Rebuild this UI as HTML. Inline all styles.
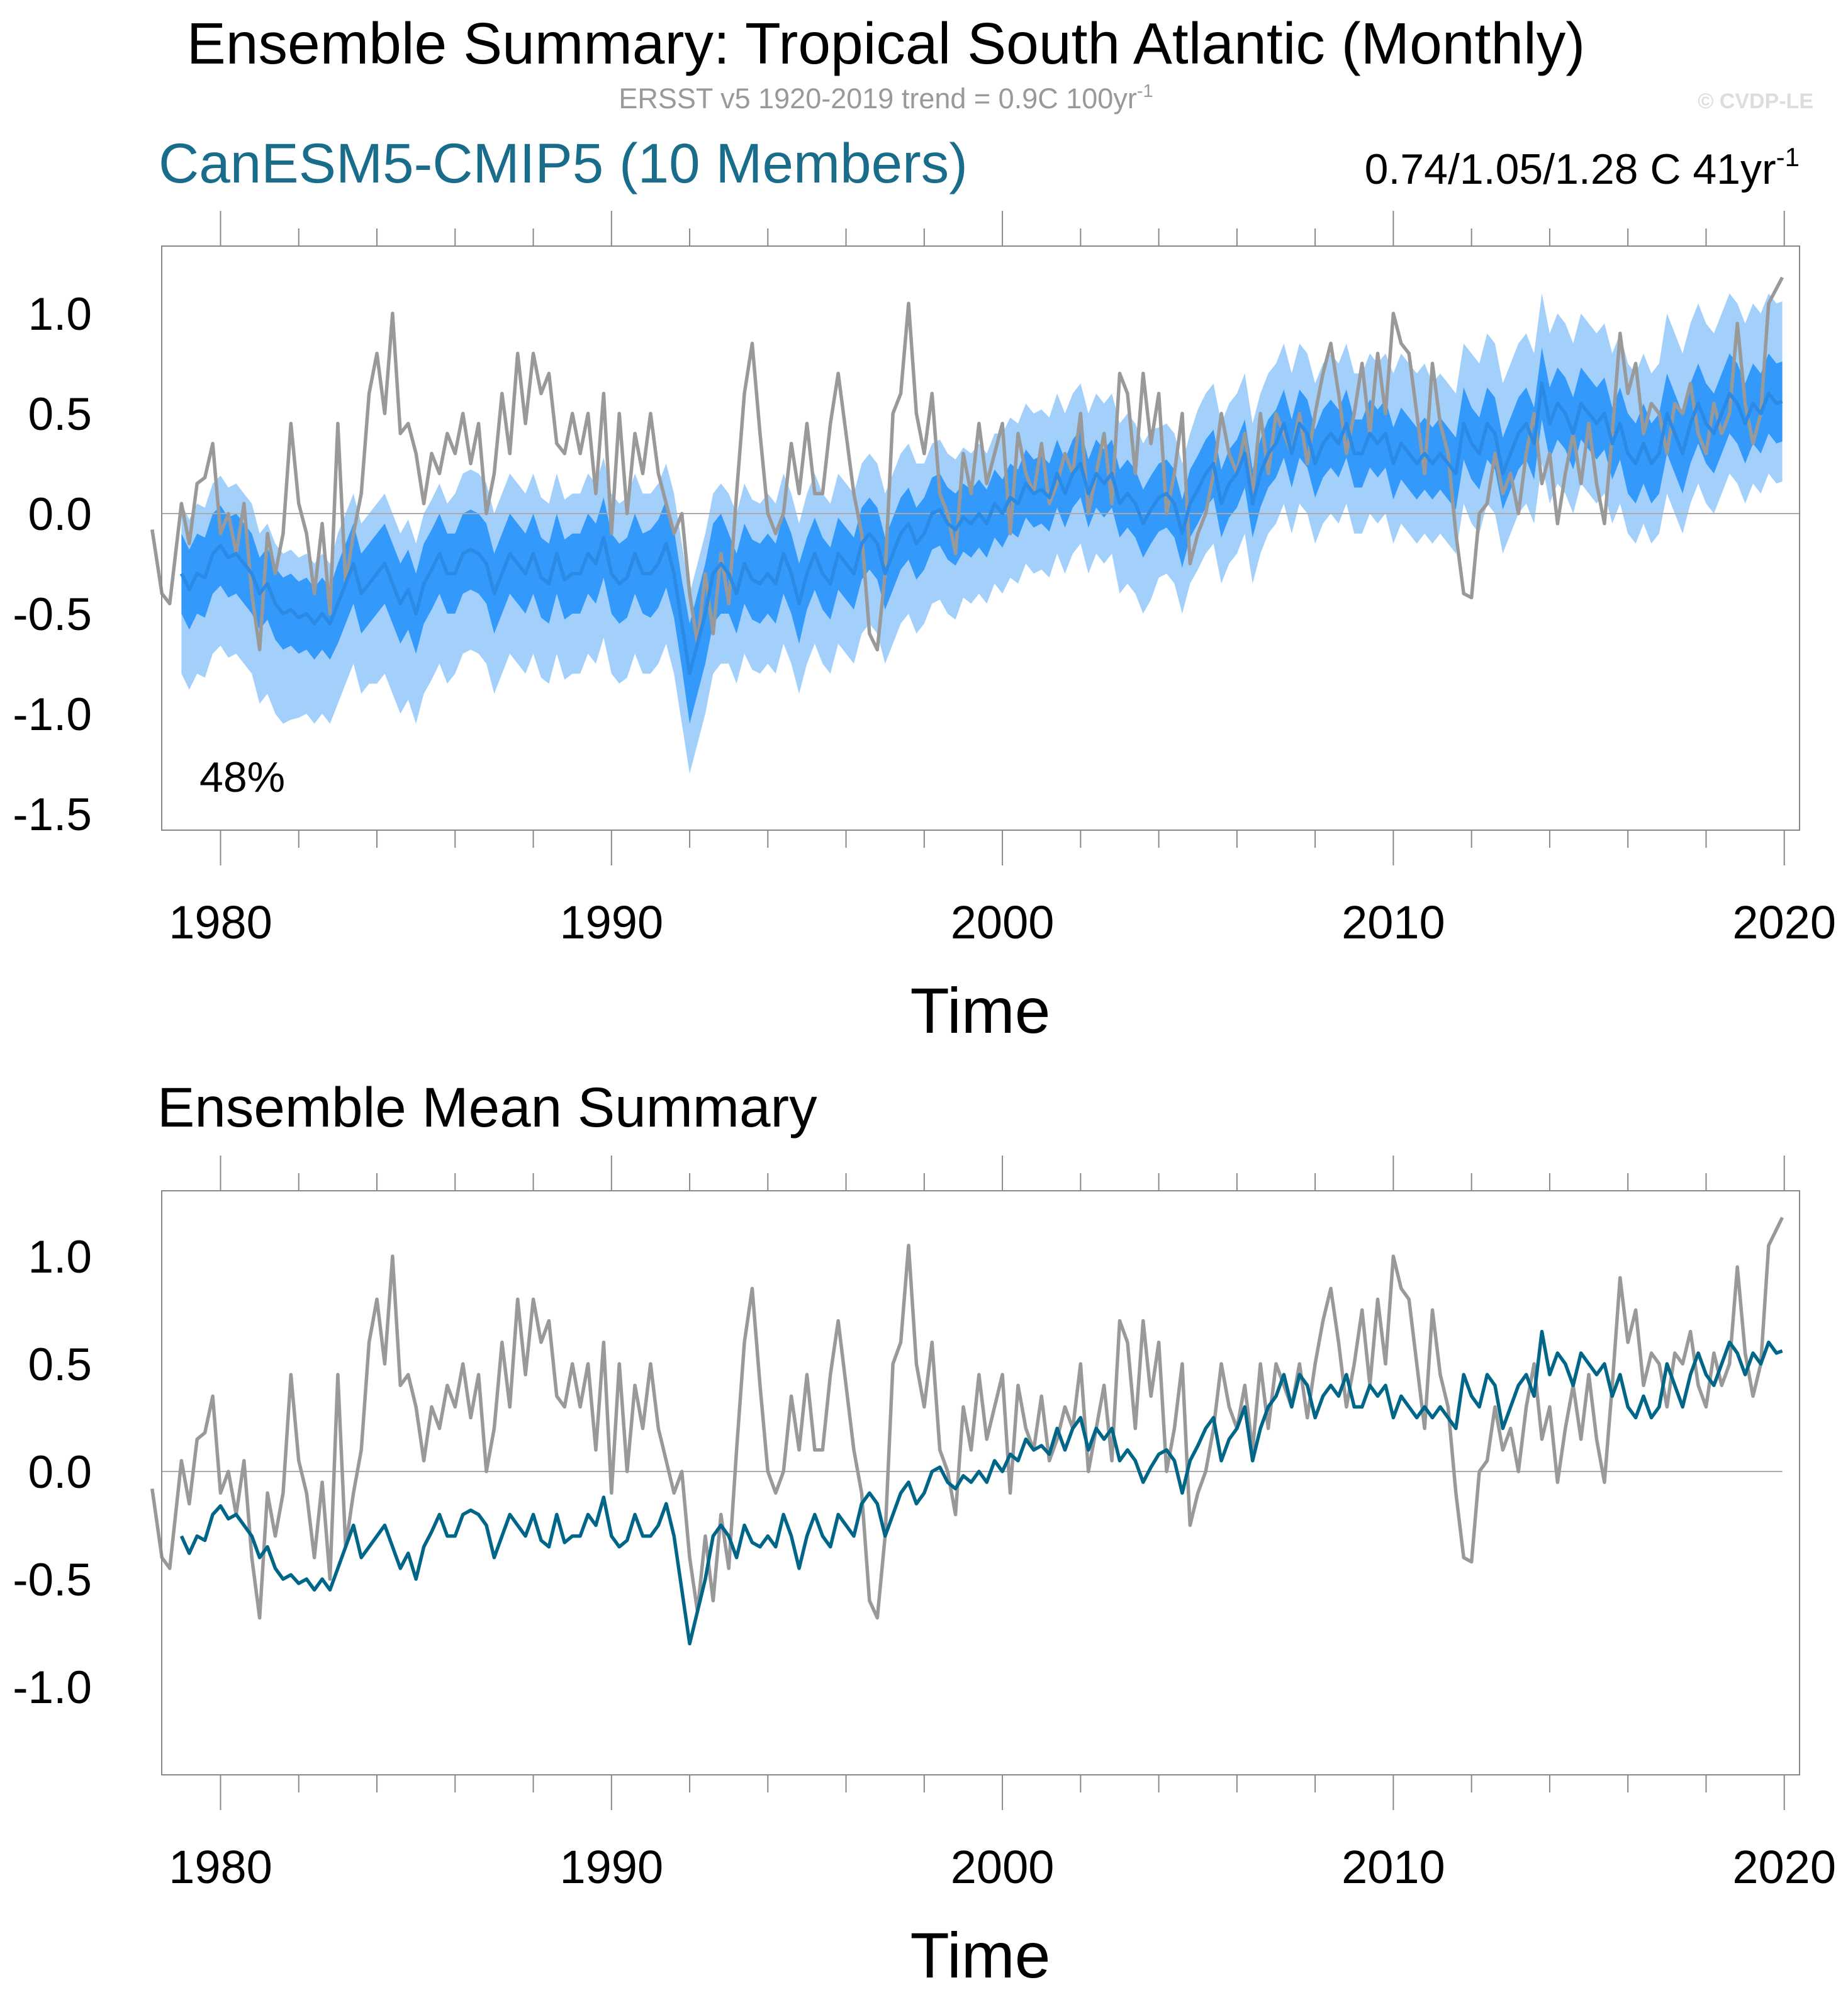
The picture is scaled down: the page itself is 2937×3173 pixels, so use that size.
<!DOCTYPE html>
<html><head><meta charset="utf-8">
<style>
html,body{margin:0;padding:0;background:#fff;}
svg{display:block;font-family:"Liberation Sans",Arial,sans-serif;}
</style></head>
<body>
<svg id="chart" width="2937" height="3173" viewBox="0 0 2937 3173" xmlns="http://www.w3.org/2000/svg">
<text x="1408" y="101" font-size="93" text-anchor="middle" fill="#000">Ensemble Summary: Tropical South Atlantic (Monthly)</text>
<text x="1408" y="172" font-size="45" text-anchor="middle" fill="#999">ERSST v5 1920-2019 trend = 0.9C 100yr<tspan font-size="29" dy="-18">-1</tspan></text>
<text x="2882" y="172" font-size="34" font-weight="bold" text-anchor="end" fill="#ddd">© CVDP-LE</text>
<text x="252" y="290" font-size="89" fill="#1a6d8a">CanESM5-CMIP5 (10 Members)</text>
<text x="2860" y="292" font-size="68" text-anchor="end" fill="#000">0.74/1.05/1.28 C 41yr<tspan font-size="42" dy="-28">-1</tspan></text>
<text x="250" y="1790" font-size="89" fill="#000">Ensemble Mean Summary</text>
<g id="top"></g>
<g id="bot"></g>
</svg>
<script>
const obsHeadTime = [1978.25, 1978.5, 1978.7];
const obsHeadVal = [-0.08, -0.4, -0.45];
const seriesStart = 1979.0;
const seriesStep = 0.2;
const obsVal = [
0.05,-0.15,0.15,0.18,0.35,
-0.1,0.0,-0.2,0.05,-0.4,
-0.68,-0.1,-0.3,-0.1,0.45,
0.05,-0.1,-0.4,-0.05,-0.5,
0.45,-0.35,-0.1,0.1,0.6,
0.8,0.5,1.0,0.4,0.45,
0.3,0.05,0.3,0.2,0.4,
0.3,0.5,0.25,0.45,0.0,
0.2,0.6,0.3,0.8,0.45,
0.8,0.6,0.7,0.35,0.3,
0.5,0.3,0.5,0.1,0.6,
-0.1,0.5,0.0,0.4,0.2,
0.5,0.2,0.05,-0.1,0.0,
-0.4,-0.65,-0.3,-0.6,-0.2,
-0.45,0.1,0.6,0.85,0.4,
0.0,-0.1,0.0,0.35,0.1,
0.45,0.1,0.1,0.45,0.7,
0.4,0.1,-0.1,-0.6,-0.68,
-0.3,0.5,0.6,1.05,0.5,
0.3,0.6,0.1,0.0,-0.2,
0.3,0.1,0.45,0.15,0.3,
0.45,-0.1,0.4,0.2,0.1,
0.35,0.05,0.15,0.3,0.2,
0.5,0.0,0.2,0.4,0.05,
0.7,0.6,0.2,0.7,0.35,
0.6,0.0,0.2,0.5,-0.25,
-0.1,0.0,0.2,0.5,0.3,
0.2,0.4,0.1,0.5,0.2,
0.5,0.4,0.3,0.5,0.25,
0.5,0.7,0.85,0.6,0.3,
0.5,0.75,0.4,0.8,0.5,
1.0,0.85,0.8,0.5,0.2,
0.75,0.45,0.3,-0.1,-0.4,
-0.42,0.0,0.05,0.3,0.1,
0.2,0.0,0.3,0.5,0.15,
0.3,-0.05,0.2,0.4,0.15,
0.45,0.15,-0.05,0.4,0.9,
0.6,0.75,0.4,0.55,0.5,
0.3,0.55,0.5,0.65,0.4,
0.3,0.55,0.4,0.5,0.95,
0.55,0.35,0.5,1.05];
const obsTail = [2019.95, 1.18];
const meanVal = [
-0.3,-0.38,-0.3,-0.32,-0.2,
-0.16,-0.22,-0.2,-0.25,-0.3,
-0.4,-0.35,-0.45,-0.5,-0.48,
-0.52,-0.5,-0.55,-0.5,-0.55,
-0.45,-0.35,-0.25,-0.4,-0.35,
-0.3,-0.25,-0.35,-0.45,-0.38,
-0.5,-0.35,-0.28,-0.2,-0.3,
-0.3,-0.2,-0.18,-0.2,-0.25,
-0.4,-0.3,-0.2,-0.25,-0.3,
-0.2,-0.32,-0.35,-0.2,-0.33,
-0.3,-0.3,-0.2,-0.25,-0.12,
-0.3,-0.35,-0.32,-0.2,-0.3,
-0.3,-0.25,-0.15,-0.3,-0.55,
-0.8,-0.65,-0.5,-0.3,-0.25,
-0.3,-0.4,-0.25,-0.33,-0.35,
-0.3,-0.35,-0.2,-0.3,-0.45,
-0.3,-0.2,-0.3,-0.35,-0.2,
-0.25,-0.3,-0.15,-0.1,-0.15,
-0.3,-0.2,-0.1,-0.05,-0.15,
-0.1,0.0,0.02,-0.05,-0.08,
-0.02,-0.05,0.0,-0.05,0.05,
0.0,0.08,0.05,0.15,0.1,
0.12,0.08,0.2,0.1,0.2,
0.25,0.1,0.2,0.15,0.2,
0.05,0.1,0.05,-0.05,0.02,
0.08,0.1,0.05,-0.1,0.05,
0.12,0.2,0.25,0.05,0.15,
0.2,0.3,0.05,0.2,0.3,
0.35,0.45,0.3,0.45,0.4,
0.25,0.35,0.4,0.35,0.45,
0.3,0.3,0.4,0.35,0.4,
0.25,0.35,0.3,0.25,0.3,
0.25,0.3,0.25,0.2,0.45,
0.35,0.3,0.45,0.4,0.2,
0.3,0.4,0.45,0.35,0.65,
0.45,0.55,0.5,0.4,0.55,
0.5,0.45,0.5,0.35,0.45,
0.3,0.25,0.35,0.25,0.3,
0.5,0.4,0.3,0.45,0.55,
0.45,0.4,0.5,0.6,0.55,
0.45,0.55,0.5,0.6,0.55];
const meanTail = [2019.95, 0.56];
// ensemble spread per year 1979..2019 (offsets from mean)
const outerDown = [0.5,0.5,0.55,0.5,0.5,0.55,0.55,0.5,0.5,0.5,0.5,0.5,0.5,0.5,0.45,0.45,0.45,0.45,0.45,0.45,0.4,0.4,0.4,0.4,0.45,0.4,0.4,0.4,0.4,0.4,0.4,0.4,0.4,0.4,0.4,0.4,0.4,0.4,0.4,0.4,0.4];
const outerUp = [0.35,0.35,0.3,0.3,0.35,0.35,0.35,0.4,0.4,0.4,0.4,0.4,0.4,0.4,0.4,0.4,0.4,0.4,0.4,0.35,0.35,0.4,0.4,0.4,0.4,0.35,0.4,0.4,0.4,0.4,0.4,0.45,0.4,0.45,0.45,0.45,0.45,0.45,0.5,0.5,0.5];
const innerHalf = [0.2,0.2,0.18,0.18,0.2,0.2,0.2,0.2,0.2,0.2,0.2,0.2,0.22,0.25,0.2,0.2,0.18,0.18,0.18,0.18,0.17,0.17,0.17,0.17,0.17,0.17,0.17,0.17,0.17,0.17,0.17,0.18,0.18,0.18,0.18,0.18,0.18,0.2,0.2,0.2,0.2];
const yTickTop = [-1.5,-1.0,-0.5,0.0,0.5,1.0];
const yTickLabelsTop = ["-1.5","-1.0","-0.5","0.0","0.5","1.0"];
const yTickBot = [-1.0,-0.5,0.0,0.5,1.0];
const yTickLabelsBot = ["-1.0","-0.5","0.0","0.5","1.0"];
const xTicks = [1980,1990,2000,2010,2020];
const xTickLabels = ["1980","1990","2000","2010","2020"];

const NS = "http://www.w3.org/2000/svg";
function mk(parent, tag, attrs){const e=document.createElementNS(NS,tag);for(const k in attrs)e.setAttribute(k,attrs[k]);parent.appendChild(e);return e;}
const X0=257, X1=2860;
function xs(yr){return 350.5 + (yr-1980)*62.13;}

const obsT=[], obsV=[];
obsHeadTime.forEach((t,i)=>{obsT.push(t);obsV.push(obsHeadVal[i]);});
obsVal.forEach((v,i)=>{obsT.push(seriesStart+i*seriesStep);obsV.push(v);});
obsT.push(obsTail[0]);obsV.push(obsTail[1]);
const mT=[], mV=[];
meanVal.forEach((v,i)=>{mT.push(seriesStart+i*seriesStep);mV.push(v);});
mT.push(meanTail[0]);mV.push(meanTail[1]);
function spreadAt(arr,t){let i=Math.min(arr.length-1,Math.max(0,Math.floor(t-1979)));return arr[i];}

function panel(g, Y0, Y1, zeroY, ppu, yt, ytl, hasBands, meanColor, namePrefix){
  const ys=v=>zeroY - v*ppu;
  const vmin=(zeroY-Y1)/-ppu, vmax=(zeroY-Y0)/ppu;
  if(hasBands){
    let up=[],dn=[];
    mT.forEach((t,i)=>{up.push(xs(t)+","+ys(mV[i]+spreadAt(outerUp,t)));dn.unshift(xs(t)+","+ys(mV[i]-spreadAt(outerDown,t)));});
    const o=mk(g,"polygon",{points:up.concat(dn).join(" "),fill:"#a3d0fb"});
    
    
    up=[];dn=[];
    mT.forEach((t,i)=>{up.push(xs(t)+","+ys(mV[i]+spreadAt(innerHalf,t)));dn.unshift(xs(t)+","+ys(mV[i]-spreadAt(innerHalf,t)));});
    const n=mk(g,"polygon",{points:up.concat(dn).join(" "),fill:"#3399fa"});
    
    
  }
  const z=mk(g,"line",{x1:X0,x2:hasBands?X1:xs(2019.95),y1:ys(0),y2:ys(0),stroke:"#aaa","stroke-width":2});
  
  
  const op=mk(g,"polyline",{points:obsT.map((t,i)=>xs(t)+","+ys(obsV[i])).join(" "),fill:"none",stroke:"#999","stroke-width":5.5,"stroke-linejoin":"round"});
  
  
  const mp=mk(g,"polyline",{points:mT.map((t,i)=>xs(t)+","+ys(mV[i])).join(" "),fill:"none",stroke:meanColor,"stroke-width":5.5,"stroke-linejoin":"round"});
  
  
  const fr=mk(g,"rect",{x:X0,y:Y0,width:X1-X0,height:Y1-Y0,fill:"none",stroke:"#888","stroke-width":2});
  
  
  for(let k=Math.ceil(vmin*10);k<=Math.floor(vmax*10);k++){
    const v=k/10, y=ys(v), major=(k%5===0);
    const L=major?28:14;
    mk(g,"line",{x1:X0-L,x2:X0,y1:y,y2:y,stroke:"#888","stroke-width":2});
    mk(g,"line",{x1:X1,x2:X1+L,y1:y,y2:y,stroke:"#888","stroke-width":2});
  }
  yt.forEach((v,i)=>{
    const t=mk(g,"text",{x:146,y:ys(v)+26,"font-size":73,"text-anchor":"end",fill:"#000"});
    t.textContent=ytl[i];
    
    
  });
  for(let yr=1980;yr<=2020;yr+=2){
    const x=xs(yr), L=(yr%10===0)?56:28;
    mk(g,"line",{x1:x,x2:x,y1:Y0-L,y2:Y0,stroke:"#888","stroke-width":2});
    mk(g,"line",{x1:x,x2:x,y1:Y1,y2:Y1+L,stroke:"#888","stroke-width":2});
  }
  xTicks.forEach((yr,i)=>{
    const t=mk(g,"text",{x:xs(yr),y:Y1+172,"font-size":74,"text-anchor":"middle",fill:"#000"});
    t.textContent=xTickLabels[i];
    
    
  });
  const tt=mk(g,"text",{x:1558,y:Y1+322,"font-size":102,"text-anchor":"middle",fill:"#000"});
  tt.textContent="Time";
  
  
}
panel(document.getElementById("top"),391,1319,816,318,yTickTop,yTickLabelsTop,true,"#2a8ae6","top");
panel(document.getElementById("bot"),1892,2820,2338,342,yTickBot,yTickLabelsBot,false,"#006688","bottom");
const pct=mk(document.getElementById("top"),"text",{x:317,y:1258,"font-size":68,fill:"#000"});
pct.textContent="48%";


</script>
</body></html>
